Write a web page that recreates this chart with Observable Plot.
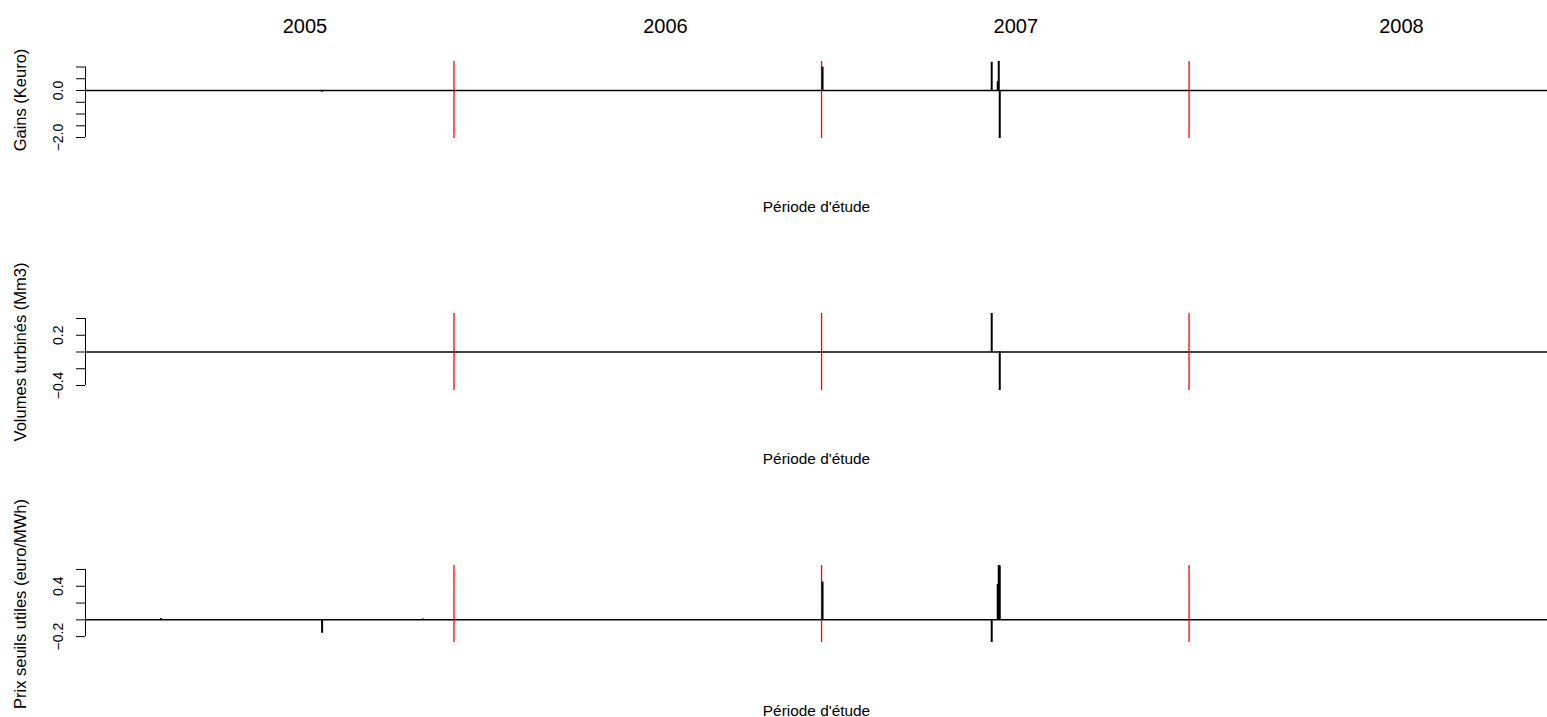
<!DOCTYPE html>
<html>
<head>
<meta charset="utf-8">
<script src="https://cdn.jsdelivr.net/npm/d3@7"></script>
<script src="https://cdn.jsdelivr.net/npm/@observablehq/plot@0.6"></script>
<style>
  html, body { margin: 0; padding: 0; background: #fff; overflow: hidden; }
  #chart { position: relative; width: 1547px; height: 717px; font-family: "Liberation Sans", Arial, sans-serif; }
  #chart svg { display: block; }
</style>
</head>
<body>
<div id="chart"></div>
<script>
// ---- data ----
const spikeDates = ["2004-08-14", "2005-01-21", "2005-05-01", "2006-06-02", "2006-11-17", "2006-11-23", "2006-11-24", "2006-11-25"];
const gains   = [0, -0.07, 0, 0.99, 1.2, 0.38, 1.234, -2.04];
const volumes = [0, 0, 0, 0, 0.46, 0, 0, -0.46];
const prix    = [0.015, -0.16, 0.01, 0.45, -0.27, 0.42, 0.647, 0.64];

const redDates = ["2005-06-01", "2006-06-01", "2007-06-01"];
const yearLabels = ["2005", "2006", "2007", "2008"];
const yearLabelDates = ["2005-01-04", "2005-12-28", "2006-12-11", "2007-12-29"];
const xDomain = ["2004-05-31", "2008-05-22"];

const xLabel = "Période d'étude";
const panelTitles = ["Gains (Keuro)", "Volumes turbinés (Mm3)", "Prix seuils utiles (euro/MWh)"];
const panelValues = [gains, volumes, prix];
const panelDomains = [[-2.04, 1.234], [-0.46, 0.46], [-0.27, 0.647]];
const panelTicks = [[-2, -1.5, -1, -0.5, 0, 0.5, 1], [-0.4, -0.2, 0, 0.2, 0.4], [-0.2, 0, 0.2, 0.4, 0.6]];
const panelTickLabels = [[-2, 0], [-0.4, 0.2], [-0.2, 0.4]];

// ---- drawing ----
const parse = d3.utcParse("%Y-%m-%d");
const fmt = v => (v < 0 ? "\u2212" : "") + Math.abs(v).toFixed(1);
const chart = document.getElementById("chart");
const heights = [252, 252, 213];
const FONT = "Liberation Sans, Arial, sans-serif";

panelValues.forEach((vals, i) => {
  const rows = spikeDates.map((d, j) => ({date: parse(d), value: vals[j]}));
  const ticks = panelTicks[i];
  const marks = [
    Plot.ruleY([0], {stroke: "black", strokeWidth: 1.5}),
    Plot.ruleX(redDates.map(parse), {stroke: "#ff0000", strokeWidth: 1.3}),
    Plot.ruleX(rows, {x: "date", y1: 0, y2: "value", stroke: "black", strokeWidth: 2}),
    // R-style y axis
    Plot.axisY({ticks, tickSize: 9, tickFormat: () => "", label: null, stroke: "black"}),
    Plot.ruleX([parse(xDomain[0])], {y1: d3.min(ticks), y2: d3.max(ticks), stroke: "black", strokeWidth: 1}),
    Plot.text(panelTickLabels[i], {y: d => d, text: d => fmt(d), frameAnchor: "left", textAnchor: "middle", lineAnchor: "middle", dx: -27, rotate: -90, fontSize: 14, fill: "black"}),
    Plot.text([panelTitles[i]], {text: d => d, frameAnchor: "left", textAnchor: "middle", lineAnchor: "middle", dx: -65, rotate: -90, fontSize: 16.5, fill: "black"}),
    Plot.text([xLabel], {text: d => d, frameAnchor: "bottom", lineAnchor: "middle", dy: 69, fontSize: 15.4, fill: "black"})
  ];
  if (i === 0) {
    marks.push(Plot.text(yearLabels, {x: (d, j) => parse(yearLabelDates[j]), text: d => d, frameAnchor: "top", lineAnchor: "middle", dy: -35, fontSize: 20, fill: "black"}));
  }
  const svg = Plot.plot({
    width: 1547,
    height: heights[i],
    marginLeft: 85,
    marginRight: 0,
    marginTop: 61,
    marginBottom: heights[i] - 61 - 77,
    style: {fontFamily: FONT, background: "white", overflow: "visible"},
    x: {type: "utc", domain: xDomain.map(parse), axis: null},
    y: {domain: panelDomains[i], axis: null},
    marks
  });
  chart.appendChild(svg);
});
</script>
</body>
</html>
